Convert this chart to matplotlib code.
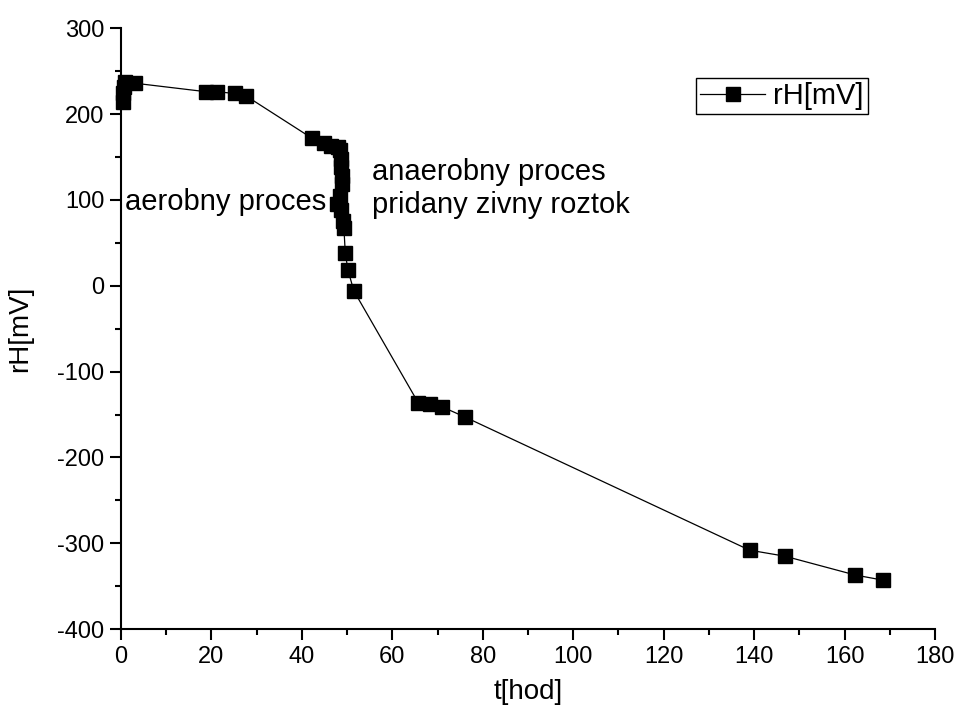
import matplotlib
matplotlib.use('Agg')
import matplotlib.pyplot as plt
from matplotlib.ticker import MultipleLocator

plt.rcParams['font.family'] = ['Liberation Sans', 'DejaVu Sans']
plt.rcParams['axes.unicode_minus'] = False

# donnees
t_hod = [0.5, 0.5, 0.6, 1, 3, 18.9, 21.2, 25.2, 27.7,
         42.2, 44.8, 46.5, 48.0, 48.4, 48.6, 48.7, 48.8, 48.8, 48.5,
         47.8, 48.7, 49.0, 49.3, 49.6, 50.2, 51.5,
         65.7, 68.4, 71.0, 76.1, 139, 146.8, 162.4, 168.6]
rH_mV = [214, 224, 232, 237, 236, 226, 226, 224, 221,
         172, 166, 163, 162, 158, 148, 138, 128, 119, 104,
         95, 88, 76, 67, 38, 18, -6,
         -136, -138, -141, -153, -308, -315, -337, -343]

fig = plt.figure(figsize=(9.6, 7.24), dpi=100)
ax = fig.add_axes([0.126, 0.131, 0.848, 0.830])

ax.plot(t_hod, rH_mV, color='black', lw=0.9, marker='s', ms=9.8,
        mfc='black', mec='black', label='rH[mV]', clip_on=False, zorder=3)

ax.set_xlim(0, 180)
ax.set_ylim(-400, 300)
ax.xaxis.set_major_locator(MultipleLocator(20))
ax.xaxis.set_minor_locator(MultipleLocator(10))
ax.yaxis.set_major_locator(MultipleLocator(100))
ax.yaxis.set_minor_locator(MultipleLocator(50))

for s in ['top', 'right']:
    ax.spines[s].set_visible(False)
for s in ['left', 'bottom']:
    ax.spines[s].set_linewidth(1.5)
ax.tick_params(which='major', direction='out', length=8, width=1.5, labelsize=17, pad=4)
ax.tick_params(which='minor', direction='out', length=4.5, width=1.5)

ax.set_xlabel('t[hod]', fontsize=20)
ax.set_ylabel('rH[mV]', fontsize=20)
ax.xaxis.set_label_coords(0.5, -0.083)
ax.yaxis.set_label_coords(-0.108, 0.5)

# textes
ax.text(1, 98, 'aerobny proces', fontsize=21, va='center', ha='left')
ax.text(55.5, 132, 'anaerobny proces', fontsize=21, va='center', ha='left')
ax.text(55.5, 94, 'pridany zivny roztok', fontsize=21, va='center', ha='left')

leg = ax.legend(loc='upper right', bbox_to_anchor=(0.918, 0.918), borderaxespad=0,
                fontsize=21, fancybox=False, edgecolor='black', framealpha=1,
                borderpad=0.15, handlelength=2.2, handletextpad=0.3)
leg.get_frame().set_linewidth(1.0)

fig.savefig('out.png', dpi=100)
